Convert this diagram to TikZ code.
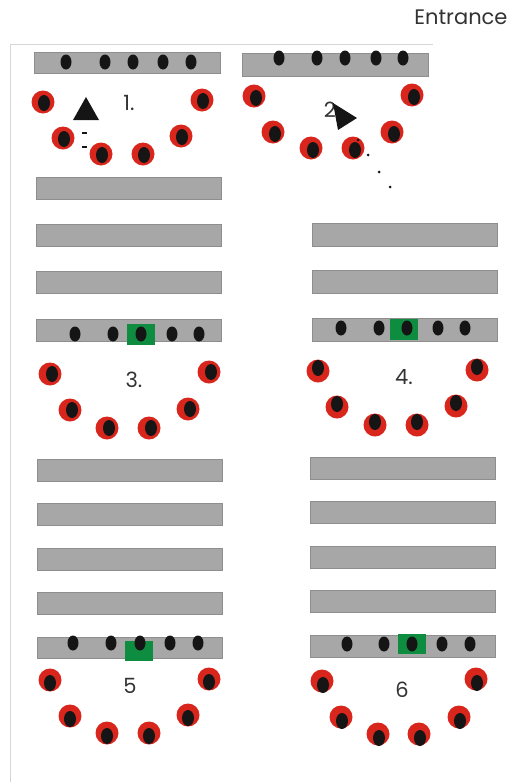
\documentclass[tikz,border=0pt]{standalone}
\usepackage{fontspec}
\setmainfont{Poppins}
\usetikzlibrary{shapes.geometric}
\definecolor{cgray}{HTML}{A7A7A7}
\definecolor{cedge}{HTML}{8E8E8E}
\definecolor{cred}{HTML}{D8261D}
\definecolor{cgreen}{HTML}{0E8C3F}
\definecolor{cframe}{HTML}{D6D6D6}
\definecolor{cink}{HTML}{151515}

\begin{document}
\begin{tikzpicture}[x=1pt,y=-1pt,
  bench/.style={draw=cedge,fill=cgray,line width=0.6pt},
  singer/.style={ellipse,fill=cink,minimum width=11pt,minimum height=15pt,inner sep=0pt},
  seat/.style={circle,fill=cred,minimum size=23pt,inner sep=0pt},
  head/.style={ellipse,fill=cink,minimum width=12pt,minimum height=16pt,inner sep=0pt},
  podium/.style={fill=cgreen,inner sep=0pt},
  numtxt/.style={font=\fontsize{21}{24}\selectfont,text=black!80,inner sep=0pt}]
  \useasboundingbox (0,0) rectangle (512,782);
  \draw[cframe,line width=1pt] (433,44) -- (10,44) -- (10,782);
  \node[font=\fontsize{21}{24}\selectfont,text=black!80,anchor=east] (entrance) at (511,17) {Entrance};
  % benches
  \foreach \t in {177,224,271} \filldraw[bench] (36,\t) rectangle ++(185,22);
  \foreach \t in {223,270} \filldraw[bench] (312,\t) rectangle ++(185,23);
  \foreach \t in {459,503,548,592} \filldraw[bench] (37,\t) rectangle ++(185,22);
  \foreach \t in {457,501,546,590} \filldraw[bench] (310,\t) rectangle ++(185,22);
  \filldraw[bench] (34,52) rectangle (220,73);
  \filldraw[bench] (242,53) rectangle (428,76);
  \filldraw[bench] (36,319) rectangle (221,341);
  \filldraw[bench] (312,318) rectangle (497,341);
  \filldraw[bench] (37,637) rectangle (222,658);
  \filldraw[bench] (310,635) rectangle (495,657);
  % podiums
  \fill[podium] (127,324) rectangle (155,345);
  \fill[podium] (390,319) rectangle (418,340);
  \fill[podium] (125,641) rectangle (153,661);
  \fill[podium] (398,634) rectangle (426,654);
  % front rows
  \foreach \x [count=\i] in {66,105,133,163,191} \node[singer] (a\i) at (\x,62) {};
  \foreach \x [count=\i] in {279,317,345,376,403} \node[singer] (b\i) at (\x,58) {};
  \foreach \x [count=\i] in {75,113,141,172,199} \node[singer] (c\i) at (\x,334) {};
  \foreach \x [count=\i] in {341,379,407,438,465} \node[singer] (d\i) at (\x,328) {};
  \foreach \x [count=\i] in {73,111,140,170,198} \node[singer] (e\i) at (\x,643) {};
  \foreach \x [count=\i] in {347,384,412,442,470} \node[singer] (f\i) at (\x,644) {};
  % half circles
  \foreach \x/\y [count=\i] in {43/102,202/100,63/138,181/136,101/154,143/154}{
    \node[seat] (sa\i) at (\x,\y) {};
    \node[head] at ([shift={(1,1)}]sa\i) {};}
  \foreach \x/\y [count=\i] in {254/96,412/95,273/132,392/132,311/148,353/148}{
    \node[seat] (sb\i) at (\x,\y) {};
    \node[head] at ([shift={(2,2)}]sb\i) {};}
  \foreach \x/\y [count=\i] in {50/374,209/372,70/410,188/409,107/428,149/428}{
    \node[seat] (sc\i) at (\x,\y) {};
    \node[head] at ([shift={(2,0)}]sc\i) {};}
  \foreach \x/\y [count=\i] in {318/371,477/370,337/407,456/406,375/425,417/425}{
    \node[seat] (sd\i) at (\x,\y) {};
    \node[head] at ([shift={(0,-3)}]sd\i) {};}
  \foreach \x/\y [count=\i] in {50/680,209/679,70/716,188/715,107/733,149/733}{
    \node[seat] (se\i) at (\x,\y) {};
    \node[head] at ([shift={(0,3)}]se\i) {};}
  \foreach \x/\y [count=\i] in {322/681,476/679,341/717,459/717,378/734,419/734}{
    \node[seat] (sf\i) at (\x,\y) {};
    \node[head] at ([shift={(1,4)}]sf\i) {};}
  % numbers
  \node[numtxt] (n1) at (129,103) {1.};
  \node[numtxt] (n2) at (330,110) {2};
  \node[numtxt] (n3) at (134,380) {3.};
  \node[numtxt] (n4) at (404,377) {4.};
  \node[numtxt] (n5) at (130,686) {5};
  \node[numtxt] (n6) at (402,690) {6};
  % walking paths
  \fill[cink] (73,120) -- (86,97) -- (99,120) -- cycle;
  \draw[cink,line width=1.4pt] (82,133) -- (87,133) (82,147) -- (87,147);
  \fill[cink] (333,103) -- (357,118) -- (338,130) -- cycle;
  \foreach \x/\y in {358/140,368/155,379/172,390/187} \fill[cink] (\x,\y) circle (1.5pt);
\end{tikzpicture}
\end{document}
